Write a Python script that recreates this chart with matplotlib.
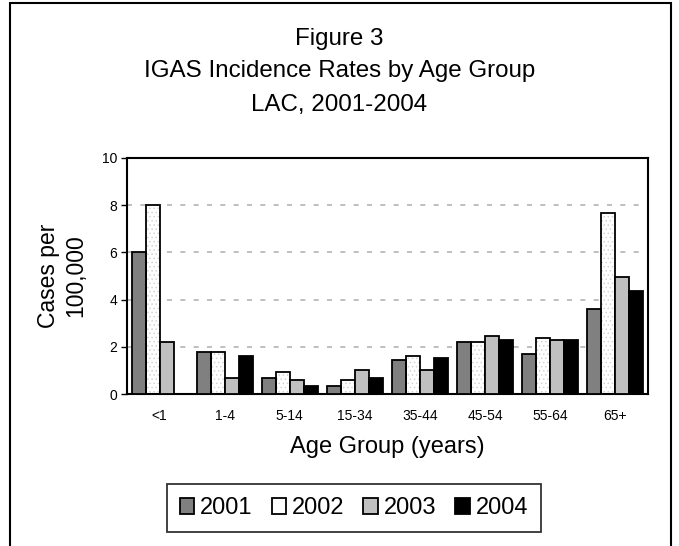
import numpy as np
import matplotlib
matplotlib.use('Agg')
import matplotlib.pyplot as plt
from matplotlib.patches import Rectangle

plt.rcParams['font.family'] = ['Liberation Sans', 'DejaVu Sans']
plt.rcParams['hatch.linewidth'] = 0.6

age_groups = ['<1', '1-4', '5-14', '15-34', '35-44', '45-54', '55-64', '65+']
years = ['2001', '2002', '2003', '2004']
rate_2001 = [6.0, 1.8, 0.7, 0.35, 1.45, 2.2, 1.72, 3.6]
rate_2002 = [8.0, 1.8, 0.95, 0.6, 1.62, 2.2, 2.38, 7.65]
rate_2003 = [2.2, 0.68, 0.6, 1.02, 1.03, 2.46, 2.3, 4.95]
rate_2004 = [0.0, 1.62, 0.36, 0.68, 1.55, 2.3, 2.3, 4.38]
colors = ['#808080', 'none', '#c0c0c0', '#000000']

fig = plt.figure(figsize=(6.79, 5.46), dpi=100)
ax = fig.add_axes([0.187, 0.278, 0.767, 0.433])

x = np.arange(len(age_groups))
w = 0.215
series = [rate_2001, rate_2002, rate_2003, rate_2004]
for i, vals in enumerate(series):
    if i == 1:
        # faint dotted fill for 2002
        ax.bar(x + (i - 1.5) * w, vals, w, color='white', edgecolor='#d4d4d4',
               hatch='....', linewidth=0, zorder=2)
    ax.bar(x + (i - 1.5) * w, vals, w, color=colors[i], edgecolor='black',
           linewidth=1.3, label=years[i], zorder=3)

ax.set_xlim(-0.5, len(age_groups) - 0.5)
ax.set_ylim(0, 10)
ax.set_yticks([0, 2, 4, 6, 8, 10])
ax.set_xticks(x)
ax.set_xticklabels(age_groups, fontsize=10)
ax.tick_params(axis='y', labelsize=10, length=4, width=1, direction='out', pad=3)
ax.tick_params(axis='x', length=0, pad=11)
ax.yaxis.grid(True, color='#b4b4b4', linestyle=(0, (3, 5)), linewidth=1.2, zorder=0)
for s in ax.spines.values():
    s.set_linewidth(1.5)
    s.set_color('black')

ax.set_xlabel('Age Group (years)', fontsize=17)
ax.xaxis.set_label_coords(0.5, -0.178)
ax.set_ylabel('Cases per\n100,000', fontsize=16.5)
ax.yaxis.set_label_coords(-0.077, 0.5)

fig.text(0.5, 1 - 45.5 / 546, 'Figure 3', ha='center', va='baseline', fontsize=17.4)
fig.text(0.5, 1 - 77.5 / 546, 'IGAS Incidence Rates by Age Group', ha='center', va='baseline', fontsize=17.4)
fig.text(0.5, 1 - 111 / 546, 'LAC, 2001-2004', ha='center', va='baseline', fontsize=17.4)

leg = fig.legend(loc='center', bbox_to_anchor=(0.5214, 0.069), ncol=4, fontsize=17,
                 frameon=True, fancybox=False, edgecolor='black', handlelength=0.62,
                 handleheight=0.65, handletextpad=0.25, columnspacing=0.8,
                 borderpad=0.55, borderaxespad=0)
leg.get_frame().set_linewidth(1.3)

fig.patches.append(Rectangle((10 / 679, -0.02), 661 / 679, 1 - 3 / 546 + 0.02,
                             transform=fig.transFigure, fill=False,
                             edgecolor='black', linewidth=1.5))

fig.savefig('out.png', dpi=100)
